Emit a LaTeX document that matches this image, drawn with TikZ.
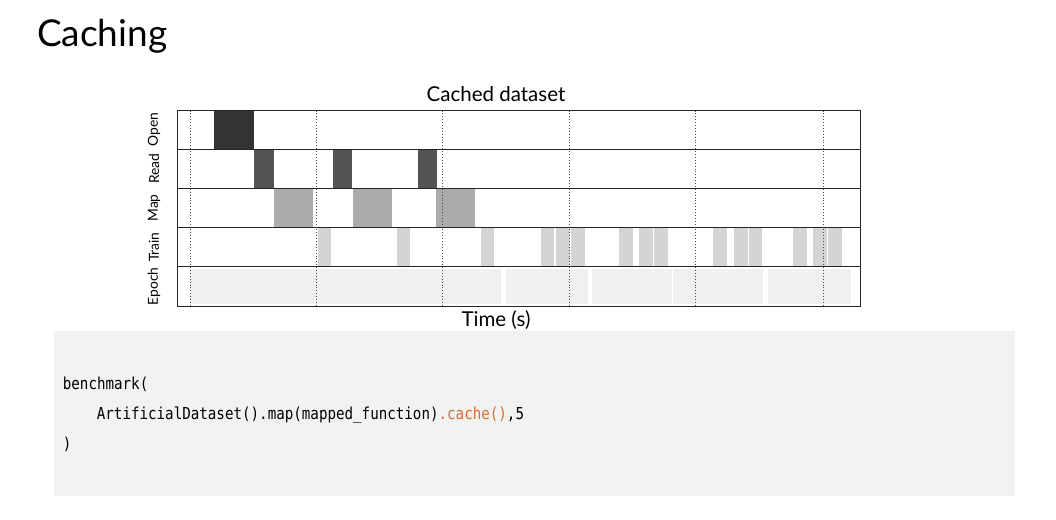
\documentclass[tikz,border=0pt]{standalone}
\usepackage{fontspec}
\setmainfont{Lato}
\newfontfamily\codefont[FakeStretch=0.86]{DejaVu Sans Mono}
\usetikzlibrary{positioning}
\definecolor{codebg}{HTML}{F2F2F2}
\definecolor{cacheorange}{RGB}{222,106,46}
\tikzset{openbar/.style={fill=black!80,draw=none},
	readbar/.style={fill=black!67,draw=none},
	mapbar/.style={fill=black!33,draw=none},
	trainbar/.style={fill=black!17,draw=none},
	epochbar/.style={fill=black!6,draw=none},
	guide/.style={dotted,black!70,line width=0.9pt},
	rowlabel/.style={rotate=90,font=\fontsize{13.8}{13.8}\selectfont},
	codeline/.style={anchor=base west,inner sep=0pt,font=\codefont\fontsize{16.5}{16.5}\selectfont}}
\begin{document}
\begin{tikzpicture}[x=1pt,y=-1pt]
				      \useasboundingbox[fill=white] (0,0) rectangle (1056,519);
				      \node[anchor=base west,inner sep=0pt,font=\fontsize{37}{37}\selectfont] (title) at (37,47) {Caching};

				      % chart bars
				      \fill[openbar] (214,110) rectangle (253.5,149.3);
				      \foreach \a/\b in {254.3/274.3,332.7/352.3,417.7/436.7}
				      \fill[readbar] (\a,149.3) rectangle (\b,188.3);
				      \foreach \a/\b in {274.3/313.3,353.3/392.3,436/475}
				      \fill[mapbar] (\a,188.3) rectangle (\b,227.7);
				      \foreach \a/\b in {317.7/331,397.3/410,481/494,540.7/554,556/569.5,570.5/585,619/632.7,639.3/653.3,654.3/668.3,713.3/727.3,734.3/748.3,749/762.3,793.3/806.7,812.7/826.7,828.3/841.7}
				      \fill[trainbar] (\a,227.7) rectangle (\b,266.7);
				      \foreach \a/\b in {190/500.7,505.7/588.3,591.7/672.3,673.3/763.3,768.3/850.7}
				      \fill[epochbar] (\a,269) rectangle (\b,304);

				      % epoch marks
				      \foreach \x in {190,316.7,442.7,569.3,695,823.3}
				      \draw[guide] (\x,110.5) -- (\x,306.5);

				      \foreach \y in {149.3,188.3,227.7,266.7}
				      \draw[black!85,line width=1.2pt] (177.3,\y) -- (860,\y);
				      \draw[black!85,line width=0.9pt] (177.3,110) rectangle (860,306);

				      \node[font=\fontsize{20.5}{20.5}\selectfont] (charttitle) at (496,94) {Cached dataset};
				      \node[font=\fontsize{20.5}{20.5}\selectfont] (timeaxis) at (496,320) {Time (s)};
				      \node[rowlabel] (open) at (154,129.6) {Open};
				      \node[rowlabel] (read) at (154,168.8) {Read};
				      \node[rowlabel] (map) at (154,208) {Map};
				      \node[rowlabel] (train) at (154,247.2) {Train};
				      \node[rowlabel] (epoch) at (154,286.4) {Epoch};

				      % code box
				      \fill[codebg] (54,330.7) rectangle (1015,495.7);
				      \node[codeline] (line1) at (62.7,389.5) {benchmark(};
				      \node[codeline] (line2) at (96.7,419.5) {ArtificialDataset().map(mapped\_function)\textcolor{cacheorange}{.cache()},5};
				      \node[codeline] (line3) at (62.7,449.5) {)};
			      \end{tikzpicture}
\end{document}
